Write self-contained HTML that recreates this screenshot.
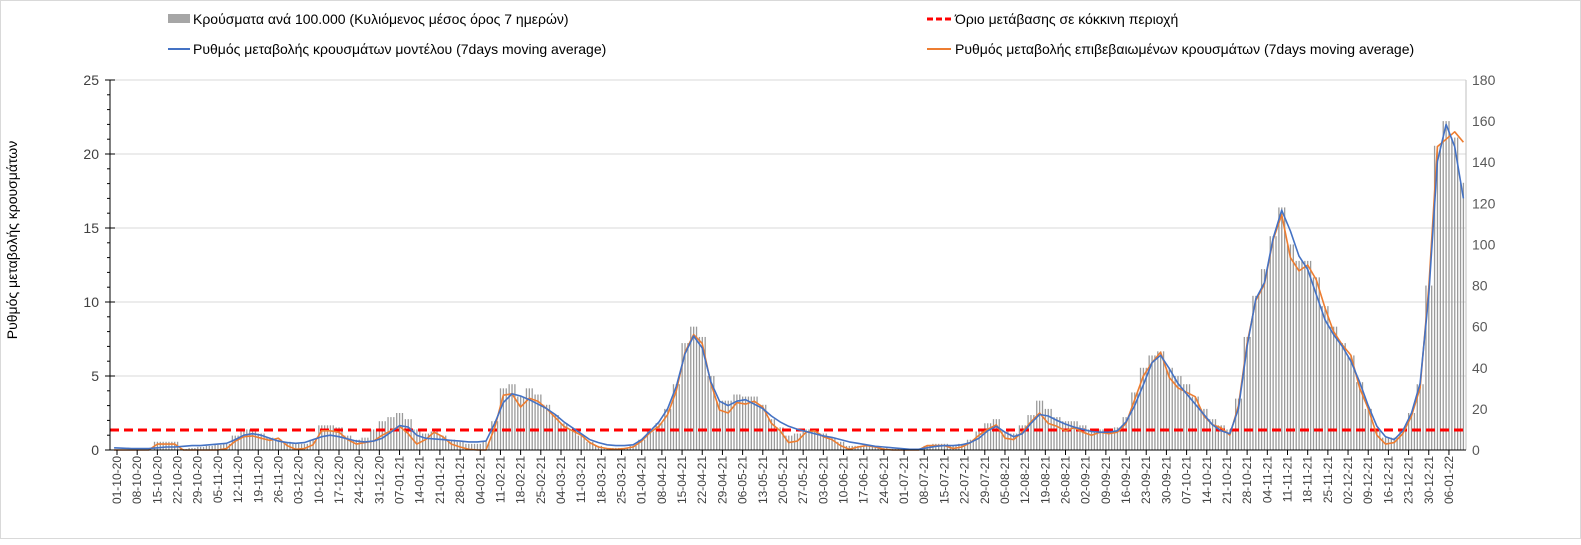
<!DOCTYPE html>
<html><head><meta charset="utf-8">
<style>
html,body{margin:0;padding:0;background:#fff;}
svg{display:block;font-family:"Liberation Sans","DejaVu Sans",sans-serif;}
</style></head>
<body>
<svg id="chart" width="1581" height="545" viewBox="0 0 1581 545" xmlns="http://www.w3.org/2000/svg">
<rect x="0.5" y="0.5" width="1580" height="538" fill="#fff" stroke="#d9d9d9"/>
<g id="grid"></g>
<g id="bars"></g>
<g id="lines"></g>
<g id="axes"></g>
<text transform="translate(17,240) rotate(-90)" text-anchor="middle" font-size="14" fill="#000">Ρυθμός μεταβολής κρουσμάτων</text>
<g font-size="14" fill="#000">
 <g><rect x="168" y="14" width="22" height="9" fill="#a6a6a6"/><text x="193" y="24">Κρούσματα ανά 100.000 (Κυλιόμενος μέσος όρος 7 ημερών)</text></g>
 <g><line x1="927" y1="19" x2="951" y2="19" stroke="#ff0000" stroke-width="3" stroke-dasharray="6,3"/><text x="955" y="24">Όριο μετάβασης σε κόκκινη περιοχή</text></g>
 <g><line x1="168" y1="49" x2="190" y2="49" stroke="#4472c4" stroke-width="2"/><text x="193" y="54">Ρυθμός μεταβολής κρουσμάτων μοντέλου (7days moving average)</text></g>
 <g><line x1="927" y1="49" x2="951" y2="49" stroke="#ed7d31" stroke-width="2"/><text x="955" y="54">Ρυθμός μεταβολής επιβεβαιωμένων κρουσμάτων (7days moving average)</text></g>
</g>
</svg>
<script>
// 3-day samples starting 30-09-20
const startDay = -1;
const stepDays = 3;
const modelRate = [0.15,0.12,0.1,0.1,0.1,0.15,0.2,0.2,0.25,0.3,0.3,0.35,0.4,0.45,0.7,1.0,1.1,1.0,0.8,0.6,0.5,0.45,0.5,0.7,0.9,1.0,0.9,0.75,0.6,0.55,0.6,0.8,1.2,1.65,1.55,1.0,0.8,0.75,0.7,0.65,0.6,0.55,0.55,0.6,1.8,3.2,3.8,3.65,3.4,3.1,2.8,2.4,1.9,1.5,1.1,0.7,0.5,0.35,0.3,0.3,0.35,0.7,1.3,1.9,2.8,4.3,6.5,7.7,6.9,4.6,3.3,3.0,3.3,3.4,3.1,2.8,2.3,1.9,1.6,1.4,1.25,1.1,0.95,0.85,0.7,0.55,0.45,0.35,0.25,0.2,0.15,0.1,0.05,0.05,0.15,0.25,0.3,0.3,0.35,0.5,0.8,1.3,1.6,1.2,0.9,1.1,1.8,2.4,2.3,2.0,1.75,1.55,1.4,1.25,1.2,1.2,1.3,1.9,3.0,4.4,5.9,6.4,5.5,4.5,3.8,3.1,2.4,1.7,1.3,1.1,2.8,7.0,10.2,11.3,14.3,16.2,14.8,13.1,12.2,10.5,8.8,7.8,7.0,6.0,4.6,3.0,1.6,0.9,0.7,1.3,2.5,4.5,10.5,19.5,22.0,20.5,17.0];
const confirmedRate = [0,0,0,0,0,0.4,0.4,0.4,0,0,0,0,0,0.1,0.6,0.9,0.95,0.8,0.65,0.8,0.3,0.05,0.1,0.35,1.3,1.3,1.2,0.7,0.4,0.5,0.6,1.0,1.3,1.6,1.1,0.4,0.7,1.2,0.9,0.4,0.2,0.05,0,0,1.5,3.7,3.8,2.9,3.5,3.3,2.8,2.2,1.6,1.3,1.0,0.5,0.2,0.1,0.05,0.1,0.2,0.6,1.2,1.6,2.4,4.0,6.6,7.8,7.2,4.5,2.7,2.5,3.2,3.1,3.3,2.9,1.8,1.3,0.5,0.6,1.2,1.3,0.9,0.7,0.3,0.05,0.2,0.3,0.2,0.05,0,0,0,0,0.3,0.3,0.3,0.1,0.2,0.5,1.0,1.4,1.7,0.8,0.7,1.2,1.9,2.5,1.8,1.6,1.3,1.5,1.2,1.0,1.2,1.1,1.2,1.8,3.4,5.0,5.9,6.6,4.9,4.2,3.9,3.6,2.3,1.7,1.5,1.0,3.0,7.2,10.1,11.2,14.2,15.9,13.0,12.1,12.5,11.5,9.6,8.0,7.1,6.4,4.2,2.8,1.0,0.4,0.5,1.1,2.3,4.2,11.0,20.5,21.0,21.5,20.8];
const casesPer100k = [0,0,0,0,0,4,4,4,0.5,1,1.5,2,2.5,3,7,10,10,8,6,5,4,3,3,5,12,12,11,7,5,6,10,14,16,18,15,10,8,9,7,5,4,3,3,4,14,30,32,26,30,27,22,17,13,10,7,4,2,1,1,1,2,5,9,13,20,32,52,60,55,36,24,24,27,26,26,22,15,11,7,8,10,10,8,6,4,2,2,2,2,1,0.5,0.5,0.3,0.3,2,3,3,2,3,5,9,13,15,9,8,12,17,24,20,16,14,14,12,10,10,10,11,16,28,40,46,48,40,36,32,26,20,15,12,10,25,55,75,88,104,118,100,92,92,84,70,60,52,46,33,20,10,6,6,9,18,32,80,148,160,152,130];
const leftTicks = [0,5,10,15,20,25];
const rightTicks = [0,20,40,60,80,100,120,140,160,180];
const threshold = [1.35];

const NS="http://www.w3.org/2000/svg";
const X0=110, X1=1466, Y0=450, Y1=80;
const xDay = d => 117 + d*2.883;
const yL = v => Y0 - v/25*(Y0-Y1);
const yR = v => Y0 - v/180*(Y0-Y1);
function mk(tag, parent, attrs){const e=document.createElementNS(NS,tag);for(const k in attrs)e.setAttribute(k,attrs[k]);parent.appendChild(e);return e;}
const grid=document.getElementById('grid'), bars=document.getElementById('bars'), lines=document.getElementById('lines'), axes=document.getElementById('axes');

leftTicks.forEach(t=>{
  if(t>0){const g=mk('line',grid,{x1:X0,x2:X1,y1:yL(t),y2:yL(t),stroke:'#d9d9d9','stroke-width':1});
  
  }
  const tx=mk('text',axes,{x:99,y:yL(t)+5,'text-anchor':'end','font-size':14,fill:'#404040'});
  tx.textContent=t;
  
  
  mk('line',axes,{x1:X0-5,x2:X0+5,y1:yL(t),y2:yL(t),stroke:'#000'});
});
for(let v=1;v<25;v++){ if(v%5) mk('line',axes,{x1:X0-3,x2:X0,y1:yL(v),y2:yL(v),stroke:'#000'}); }
rightTicks.forEach(t=>{
  const tx=mk('text',axes,{x:1472,y:yR(t)+5,'font-size':14,fill:'#595959'});
  tx.textContent=t;
  
  
});
mk('line',axes,{x1:X0,x2:X0,y1:Y1,y2:Y0,stroke:'#000'});
mk('line',axes,{x1:X1,x2:X1,y1:Y1,y2:Y0,stroke:'#bfbfbf'});
mk('line',axes,{x1:X0,x2:X1,y1:Y0,y2:Y0,stroke:'#000'});

// bars: one thin bar per day within each 3-day sample
casesPer100k.forEach((v,i)=>{
  const d0=startDay+i*stepDays;
  for(let k=0;k<3;k++){
    const x=xDay(d0+k-1);
    if(x<X0+1||x>X1-1) continue;
    const r=mk('rect',bars,{x:x-0.6,y:yR(v),width:1.3,height:Math.max(0,Y0-yR(v)),fill:'#9a9a9a'});
    
    
  }
});

// x labels weekly
const start=new Date(Date.UTC(2020,9,1));
for(let w=0; w*7<=462; w++){
  const d=w*7, x=xDay(d);
  const dt=new Date(start.getTime()+d*86400000);
  const lab=String(dt.getUTCDate()).padStart(2,'0')+'-'+String(dt.getUTCMonth()+1).padStart(2,'0')+'-'+String(dt.getUTCFullYear()%100).padStart(2,'0');
  mk('line',axes,{x1:x,x2:x,y1:Y0,y2:Y0+5,stroke:'#000'});
  const t=mk('text',axes,{transform:`translate(${x+4},${Y0+6}) rotate(-90)`,'text-anchor':'end','font-size':12,fill:'#404040'});
  t.textContent=lab;
  
  
}

const th=mk('line',lines,{x1:X0,x2:X1,y1:yL(threshold[0]),y2:yL(threshold[0]),stroke:'#ff0000','stroke-width':3,'stroke-dasharray':'9,5'});



function path(arr,col,name){
  const pts=arr.map((v,i)=>`${xDay(startDay+i*stepDays).toFixed(1)},${yL(v).toFixed(1)}`).join(' ');
  const p=mk('polyline',lines,{points:pts,fill:'none',stroke:col,'stroke-width':1.6,'stroke-linejoin':'round'});
  
  
}
path(confirmedRate,'#ed7d31','confirmed-rate-line');
path(modelRate,'#4472c4','model-rate-line');
</script>
</body></html>
